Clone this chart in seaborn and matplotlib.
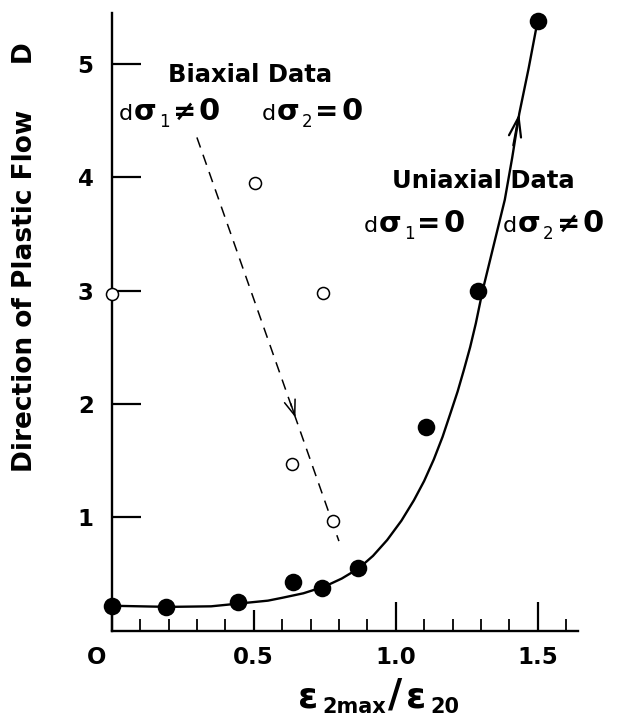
import matplotlib
matplotlib.use('Agg')
import matplotlib.pyplot as plt
import matplotlib.transforms as mtransforms
import seaborn as sns
import pandas as pd

# ---------------- data ----------------
uni_x = [0.0, 0.19, 0.445, 0.64, 0.74, 0.866, 1.105, 1.29, 1.50]
uni_y = [0.22, 0.21, 0.25, 0.43, 0.38, 0.55, 1.80, 3.00, 5.38]

bi_x = [0.0, 0.505, 0.745, 0.634, 0.778]
bi_y = [2.97, 3.95, 2.98, 1.47, 0.97]

curve_x = [0.0, 0.20, 0.35, 0.45, 0.55, 0.60, 0.675, 0.75, 0.81, 0.87, 0.92,
           0.97, 1.02, 1.064, 1.10, 1.134, 1.165, 1.193, 1.218, 1.240, 1.262,
           1.282, 1.306, 1.345, 1.384, 1.41, 1.435, 1.468, 1.499]
curve_y = [0.22, 0.21, 0.215, 0.24, 0.265, 0.29, 0.33, 0.39, 0.46, 0.55, 0.66,
           0.80, 0.97, 1.15, 1.32, 1.51, 1.71, 1.92, 2.11, 2.30, 2.50,
           2.71, 3.00, 3.40, 3.80, 4.17, 4.56, 4.96, 5.37]

trend_x = [0.30, 0.80]
trend_y = [4.35, 0.79]

x_major = [0.0, 0.5, 1.0, 1.5]
x_major_labels = ['O', '0.5', '1.0', '1.5']
x_minor = [0.1, 0.2, 0.3, 0.4, 0.6, 0.7, 0.8, 0.9, 1.1, 1.2, 1.3, 1.4, 1.6]
y_ticks = [1, 2, 3, 4, 5]
y_labels = ['1', '2', '3', '4', '5']

W, H = 624, 722

sns.set_style('ticks')
plt.rcParams['font.family'] = ['DejaVu Sans']
for k in ['text.color', 'axes.labelcolor', 'xtick.color', 'ytick.color',
          'axes.edgecolor']:
    plt.rcParams[k] = 'black'

fig = plt.figure(figsize=(W / 100, H / 100), dpi=100)
ax = fig.add_axes([111.7 / W, (H - 630.7) / H, 465.8 / W, 618 / H])

curve_df = pd.DataFrame({'x': curve_x, 'y': curve_y})
trend_df = pd.DataFrame({'x': trend_x, 'y': trend_y})
uni_df = pd.DataFrame({'x': uni_x, 'y': uni_y})
bi_df = pd.DataFrame({'x': bi_x, 'y': bi_y})

sns.lineplot(data=curve_df, x='x', y='y', ax=ax, color='black', lw=1.7,
             sort=False, estimator=None)
ax.lines[-1].set_solid_joinstyle('round')
sns.lineplot(data=trend_df, x='x', y='y', ax=ax, color='black', lw=1.1,
             sort=False, estimator=None, dashes=False)
ax.lines[-1].set_dashes([7, 5])
sns.scatterplot(data=uni_df, x='x', y='y', ax=ax, color='black', s=160,
                edgecolor='black', linewidth=0, zorder=5, clip_on=False)
sns.scatterplot(data=bi_df, x='x', y='y', ax=ax, facecolor='white', s=75,
                edgecolor='black', linewidth=1.1, zorder=5, clip_on=False)
for c in ax.collections:
    c.set_clip_on(False)

# arrow heads
ax.annotate('', xy=(1.435, 4.56), xytext=(1.414, 4.28),
            arrowprops=dict(arrowstyle='->,head_length=0.7,head_width=0.22',
                            color='black', lw=1.6, shrinkA=0, shrinkB=0,
                            mutation_scale=20))
ax.annotate('', xy=(0.647, 1.88), xytext=(0.630, 2.005),
            arrowprops=dict(arrowstyle='->,head_length=0.55,head_width=0.2',
                            color='black', lw=1.1, shrinkA=0, shrinkB=0,
                            mutation_scale=20))

ax.set_xlim(0, 1.64)
ax.set_ylim(0, 5.45)
sns.despine(ax=ax)
for s in ['left', 'bottom']:
    ax.spines[s].set_linewidth(1.7)
    ax.spines[s].set_color('black')

ax.set_xticks(x_major)
ax.set_xticklabels(x_major_labels, fontsize=16.5, fontweight='bold')
ax.set_xticks(x_minor, minor=True)
ax.set_yticks(y_ticks)
ax.set_yticklabels(y_labels, fontsize=16.5, fontweight='bold')
ax.tick_params(axis='both', which='major', direction='in', length=21, width=1.6,
               colors='black')
ax.tick_params(axis='x', which='major', pad=11)
ax.tick_params(axis='y', which='major', pad=13)
ax.tick_params(axis='x', which='minor', direction='in', length=9, width=1.3,
               colors='black')
ax.xaxis.get_major_ticks()[1].tick1line.set_markersize(15)
ax.set_xlabel('')
ax.set_ylabel('')
lab0 = ax.get_xticklabels()[0]
lab0.set_transform(lab0.get_transform() +
                   mtransforms.ScaledTranslation(-15 / 100, 0, fig.dpi_scale_trans))

# y label
fig.text(25 / W, (H - 257) / H, 'Direction of Plastic Flow     D', rotation=90,
         ha='center', va='center', fontsize=19, fontweight='bold', color='black')

renderer = fig.canvas.get_renderer()
ident = mtransforms.IdentityTransform()


def pieces(x_px, base_px, parts):
    x = x_px
    yb = H - base_px
    for txt, size, weight, dy, gap in parts:
        t = fig.text(x + gap, yb - dy, txt, fontsize=size, fontweight=weight,
                     ha='left', va='baseline', transform=ident, color='black')
        bb = t.get_window_extent(renderer)
        x = bb.x1


pieces(168, 82, [('Biaxial Data', 17.5, 'bold', 0, 0)])
pieces(119, 120, [('d', 16, 'normal', 0, 0), ('σ', 21, 'bold', 0, 1),
                  ('1', 12, 'normal', 7, 2), ('≠', 20, 'bold', 0, 3),
                  ('0', 22, 'bold', 0, 3)])
pieces(262, 120, [('d', 16, 'normal', 0, 0), ('σ', 21, 'bold', 0, 1),
                  ('2', 12, 'normal', 7, 2), ('=', 20, 'bold', 0, 3),
                  ('0', 22, 'bold', 0, 3)])
pieces(392, 188, [('Uniaxial Data', 17.5, 'bold', 0, 0)])
pieces(364, 232, [('d', 16, 'normal', 0, 0), ('σ', 21, 'bold', 0, 1),
                  ('1', 12, 'normal', 7, 2), ('=', 20, 'bold', 0, 3),
                  ('0', 22, 'bold', 0, 3)])
pieces(503, 232, [('d', 16, 'normal', 0, 0), ('σ', 21, 'bold', 0, 1),
                  ('2', 12, 'normal', 7, 2), ('≠', 20, 'bold', 0, 3),
                  ('0', 22, 'bold', 0, 3)])

# x label
pieces(298, 707, [('ε', 26, 'bold', 0, 0), ('2max', 15, 'bold', 6, 4),
                  ('/', 28, 'bold', 0, 2), ('ε', 26, 'bold', 0, 4),
                  ('20', 15, 'bold', 6, 4)])

fig.savefig('out.png', dpi=100)
